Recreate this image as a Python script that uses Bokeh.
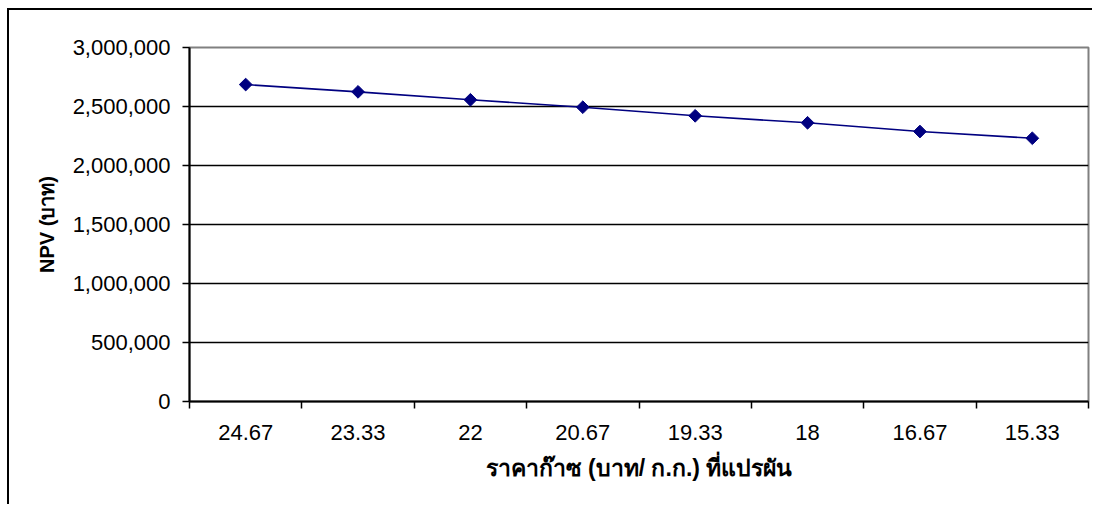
import numpy as np
from bokeh.plotting import figure
from bokeh.models import Range1d, FixedTicker, NumeralTickFormatter
from bokeh.embed import file_html
from bokeh.resources import INLINE

# Gas price scenarios (baht/kg) and resulting NPV (baht)
prices = ["24.67", "23.33", "22", "20.67", "19.33", "18", "16.67", "15.33"]
npv = [2686000, 2624000, 2557000, 2494000, 2421000, 2362000, 2288000, 2231000]
y_ticks = [0, 500000, 1000000, 1500000, 2000000, 2500000, 3000000]

n = len(prices)
xs = [i + 0.5 for i in range(n)]

FONT = "Liberation Sans"

p = figure(width=1085, height=496, output_backend="svg", toolbar_location=None,
           x_range=Range1d(0, n), y_range=Range1d(0, 3000000),
           min_border_left=180, min_border_right=6, min_border_top=37, min_border_bottom=105)
# chart area frame (left and top edges visible in the window)
p.styles = {"margin-left": "7px", "margin-top": "8px",
            "border-left": "2px solid black", "border-top": "2px solid black"}
p.background_fill_color = "white"
p.border_fill_color = "white"
p.outline_line_color = "#808080"
p.outline_line_width = 2

# category labels at centres, boundary ticks as minor ticks
p.xaxis.ticker = FixedTicker(ticks=xs, minor_ticks=list(range(n + 1)))
p.xaxis.major_label_overrides = {x: lab for x, lab in zip(xs, prices)}
p.xaxis.major_tick_line_color = None
p.xaxis.minor_tick_line_color = "black"
p.xaxis.minor_tick_line_width = 1.5
p.xaxis.minor_tick_out = 7
p.xaxis.minor_tick_in = 0
p.xaxis.major_tick_out = 7
p.xaxis.major_label_standoff = 16
p.xaxis.axis_label = "ราคาก๊าซ (บาท/ ก.ก.) ที่แปรผัน"
p.xaxis.axis_label_standoff = 12
p.xaxis.axis_label_text_font_size = "23px"

p.yaxis.ticker = FixedTicker(ticks=y_ticks, minor_ticks=[])
p.yaxis.formatter = NumeralTickFormatter(format="0,0")
p.yaxis.major_tick_line_color = "black"
p.yaxis.major_tick_line_width = 1.5
p.yaxis.major_tick_out = 7
p.yaxis.major_tick_in = 0
p.yaxis.major_label_standoff = 12
p.yaxis.axis_label = "NPV (บาท)"
p.yaxis.axis_label_standoff = 12
p.yaxis.axis_label_text_font_size = "20px"

for ax in (p.xaxis, p.yaxis):
    ax.axis_line_color = "black"
    ax.axis_line_width = 2
    ax.major_label_text_font = FONT
    ax.major_label_text_font_size = "22px"
    ax.major_label_text_color = "black"
    ax.axis_label_text_font = FONT
    ax.axis_label_text_font_style = "bold"
    ax.axis_label_text_color = "black"

p.xgrid.grid_line_color = None
p.ygrid.grid_line_color = "black"
p.ygrid.grid_line_width = 1.5

p.line(xs, npv, line_color="#000080", line_width=1.6)
p.scatter(xs, npv, marker="square", angle=np.pi / 4, size=9,
          fill_color="#000080", line_color="#000080")

open("out.html", "w").write(file_html(p, INLINE))
